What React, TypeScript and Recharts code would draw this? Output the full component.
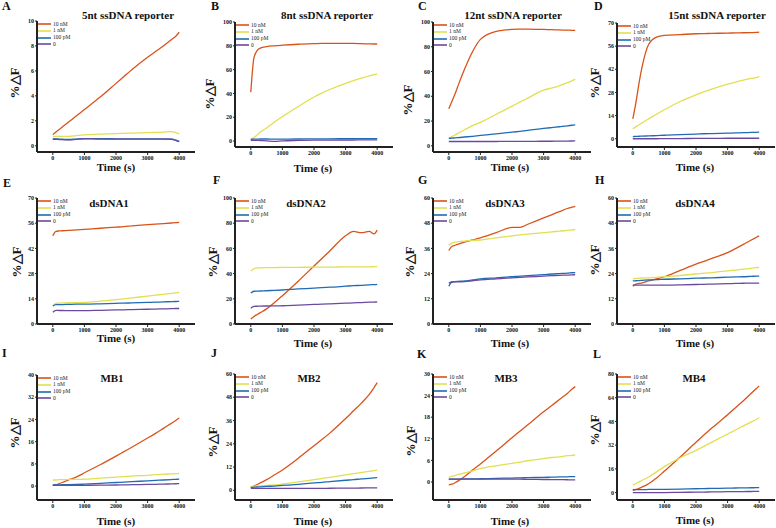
import React from 'react';
import { LineChart, Line, XAxis, YAxis, Legend } from 'recharts';

const FONT = 'Liberation Serif, "Times New Roman", Times, serif';

const T = [0, 100, 200, 300, 500, 750, 1000, 1500, 2000, 2250, 2500, 3000, 3250, 3500, 3750, 3900, 4000];
const X_TICKS = [0, 1000, 2000, 3000, 4000];
const SERIES_NAMES = ['10 nM', '1 nM', '100 pM', '0'];
const SERIES_COLORS = ['#D95319', '#E2DF50', '#1F6CB5', '#6A4A9E'];

// A: 5nt ssDNA reporter
const a10nM = [0.9, 1.1, 1.3, 1.5, 1.9, 2.4, 2.9, 3.9, 5.0, 5.55, 6.1, 7.1, 7.55, 8.0, 8.5, 8.8, 9.1];
const a1nM = [0.75, 0.75, 0.76, 0.76, 0.75, 0.82, 0.88, 0.93, 0.98, 1.0, 1.02, 1.05, 1.07, 1.1, 1.14, 1.05, 0.95];
const a100pM = [0.55, 0.55, 0.54, 0.53, 0.5, 0.54, 0.58, 0.57, 0.56, 0.56, 0.56, 0.55, 0.55, 0.55, 0.54, 0.45, 0.35];
const a0 = [0.52, 0.52, 0.5, 0.49, 0.47, 0.52, 0.55, 0.54, 0.54, 0.54, 0.54, 0.53, 0.53, 0.53, 0.52, 0.42, 0.32];
// B: 8nt ssDNA reporter
const b10nM = [41, 70, 76, 78, 79.3, 80, 80.5, 81.3, 81.8, 82, 82, 82, 82, 81.8, 81.6, 81.5, 81.5];
const b1nM = [1, 3, 5, 7.5, 11, 16, 20.5, 29, 37, 40.3, 43.3, 48.5, 50.8, 52.8, 54.8, 55.8, 56.5];
const b100pM = [1.5, 1.6, 1.6, 1.7, 1.7, 1.6, 1.6, 1.7, 1.8, 1.8, 1.9, 2, 2, 2, 2, 2, 2];
const b0 = [0.5, 0.6, 0.6, 0.4, 0.2, -0.3, 0.2, 0.5, 0.7, 0.7, 0.8, 0.9, 0.9, 1, 1, 1, 1];
// C: 12nt ssDNA reporter
const c10nM = [30, 36, 42, 49, 62, 76, 86, 92.5, 94, 94.2, 94.3, 94, 93.8, 93.6, 93.4, 93.3, 93.2];
const c1nM = [6, 7.4, 8.8, 10.2, 13, 16.3, 19, 25.5, 32, 35.3, 38.5, 45, 46.5, 48.5, 51, 52.5, 54];
const c100pM = [6, 6.2, 6.4, 6.6, 7.1, 7.7, 8.4, 9.6, 11, 11.7, 12.4, 14, 14.7, 15.4, 16.1, 16.6, 17];
const c0 = [3.5, 3.5, 3.5, 3.5, 3.5, 3.5, 3.5, 3.5, 3.6, 3.6, 3.6, 3.7, 3.7, 3.8, 3.8, 3.9, 4];
// D: 15nt ssDNA reporter
const d10nM = [12, 22, 34, 44, 57, 61.5, 62.5, 63, 63.5, 63.6, 63.7, 63.9, 64, 64.1, 64.2, 64.3, 64.5];
const d1nM = [6, 7.3, 8.5, 9.7, 12, 14.8, 17.5, 22.5, 26.5, 28.3, 30, 33, 34.3, 35.5, 36.5, 37, 37.5];
const d100pM = [1.3, 1.4, 1.5, 1.6, 1.7, 1.9, 2.1, 2.5, 2.8, 3, 3.1, 3.4, 3.5, 3.7, 3.8, 3.9, 4];
const d0 = [0, 0, 0, 0, 0, 0, 0.1, 0.1, 0.2, 0.2, 0.2, 0.3, 0.3, 0.3, 0.3, 0.3, 0.3];
// E: dsDNA1
const e10nM = [49, 51.5, 51.7, 51.8, 52, 52.3, 52.6, 53.2, 53.8, 54.1, 54.5, 55.2, 55.5, 55.8, 56.1, 56.3, 56.5];
const e1nM = [10, 11.5, 11.6, 11.7, 11.8, 11.9, 12, 12.7, 13.5, 14, 14.5, 15.5, 16, 16.5, 17, 17.3, 17.5];
const e100pM = [10, 10.8, 10.8, 10.8, 10.9, 11, 11, 11.2, 11.5, 11.6, 11.7, 12, 12.1, 12.3, 12.4, 12.5, 12.6];
const e0 = [6.5, 7.6, 7.5, 7.5, 7.4, 7.4, 7.4, 7.6, 7.8, 7.9, 8, 8.2, 8.3, 8.4, 8.5, 8.6, 8.6];
// F: dsDNA2
const f10nM = [4, 6, 7.5, 9, 12, 17, 22.5, 34, 46, 52, 58, 70, 73.5, 72.5, 73.5, 71.5, 74.5];
const f1nM = [42, 44, 44.5, 44.6, 44.7, 44.8, 44.9, 45, 45.1, 45.2, 45.2, 45.3, 45.3, 45.4, 45.4, 45.5, 45.5];
const f100pM = [24.5, 26, 26.1, 26.2, 26.4, 26.7, 27, 27.8, 28.5, 28.9, 29.2, 30, 30.4, 30.7, 31.1, 31.3, 31.5];
const f0 = [12.5, 14, 14.1, 14.2, 14.3, 14.4, 14.5, 15, 15.5, 15.8, 16, 16.5, 16.8, 17, 17.3, 17.4, 17.5];
// G: dsDNA3
const g10nM = [35, 37, 37.5, 38, 39, 40, 41, 43.5, 46, 46, 47.5, 50.5, 52, 53.5, 55, 55.6, 56];
const g1nM = [37.5, 38.5, 39, 39.2, 39.5, 39.8, 40, 41, 42, 42.4, 42.8, 43.5, 43.9, 44.2, 44.6, 44.8, 45];
const g100pM = [18, 20, 20.2, 20.3, 20.5, 21, 21.5, 22, 22.5, 22.8, 23, 23.5, 23.8, 24, 24.2, 24.4, 24.5];
const g0 = [19.5, 20, 20.1, 20.1, 20.2, 20.6, 21, 21.5, 22, 22.2, 22.4, 22.8, 23, 23.2, 23.3, 23.4, 23.5];
// H: dsDNA4
const h10nM = [18, 19, 19.3, 19.6, 20.5, 21.5, 22.5, 25.5, 28.5, 29.8, 31.2, 34, 35.9, 37.9, 40, 41.2, 42];
const h1nM = [21.5, 21.7, 21.8, 21.9, 22, 22.2, 22.5, 23.1, 23.8, 24.2, 24.5, 25.3, 25.7, 26.1, 26.5, 26.8, 27];
const h100pM = [20.5, 20.6, 20.7, 20.8, 21, 21.1, 21.3, 21.5, 21.8, 21.9, 22, 22.3, 22.4, 22.5, 22.7, 22.8, 22.8];
const h0 = [18.5, 18.5, 18.5, 18.5, 18.5, 18.5, 18.5, 18.6, 18.8, 18.9, 19, 19.2, 19.3, 19.4, 19.5, 19.5, 19.5];
// I: MB1
const i10nM = [0.3, 0.5, 0.9, 1.3, 2.2, 3.3, 4.8, 7.7, 10.8, 12.4, 14, 17.3, 19, 20.8, 22.6, 23.7, 24.5];
const i1nM = [2.2, 2.2, 2.3, 2.3, 2.4, 2.4, 2.5, 2.9, 3.2, 3.4, 3.6, 3.9, 4.1, 4.3, 4.4, 4.5, 4.6];
const i100pM = [0.4, 0.4, 0.45, 0.5, 0.55, 0.6, 0.7, 1, 1.3, 1.45, 1.6, 1.9, 2.05, 2.2, 2.35, 2.45, 2.5];
const i0 = [0.3, 0.3, 0.3, 0.3, 0.3, 0.3, 0.3, 0.35, 0.4, 0.45, 0.5, 0.6, 0.65, 0.72, 0.8, 0.85, 0.9];
// J: MB2
const j10nM = [1.5, 2.2, 3, 3.8, 5.5, 8, 10.5, 16.5, 23, 26.2, 29.5, 37, 41, 45, 49.5, 53, 55.5];
const j1nM = [2, 2.1, 2.2, 2.3, 2.5, 2.8, 3.2, 4.3, 5.5, 6.1, 6.7, 8, 8.6, 9.2, 9.8, 10.2, 10.5];
const j100pM = [1.5, 1.6, 1.7, 1.8, 2, 2.2, 2.5, 3.1, 3.8, 4.1, 4.5, 5.2, 5.5, 5.9, 6.2, 6.4, 6.5];
const j0 = [1, 1, 1, 1, 1, 1, 1, 1, 1, 1, 1.05, 1.1, 1.15, 1.2, 1.25, 1.3, 1.3];
// K: MB3
const k10nM = [-0.8, -0.6, -0.2, 0.3, 1.5, 3.3, 5, 8.6, 12.3, 14.1, 15.9, 19.5, 21.2, 22.9, 24.6, 25.8, 26.5];
const k1nM = [1.3, 1.6, 1.8, 2.1, 2.5, 3.1, 3.7, 4.5, 5.2, 5.5, 5.9, 6.5, 6.8, 7, 7.3, 7.4, 7.5];
const k100pM = [0.8, 0.8, 0.8, 0.8, 0.85, 0.85, 0.9, 1, 1.1, 1.15, 1.2, 1.3, 1.35, 1.4, 1.45, 1.5, 1.5];
const k0 = [0.8, 0.8, 0.8, 0.8, 0.8, 0.8, 0.8, 0.8, 0.8, 0.78, 0.75, 0.7, 0.68, 0.65, 0.62, 0.6, 0.6];
// L: MB4
const l10nM = [1.5, 2.1, 2.9, 3.8, 6, 9.8, 14.5, 24, 34, 38.8, 43.5, 52.5, 57.3, 62, 67, 70, 72];
const l1nM = [5, 6.1, 7.2, 8.3, 10.5, 14, 17.5, 23.5, 28.5, 31.2, 34, 39.5, 42.2, 45, 47.7, 49.3, 50.5];
const l100pM = [2, 2, 2, 2, 2.1, 2.15, 2.2, 2.4, 2.6, 2.7, 2.8, 3, 3.1, 3.2, 3.25, 3.3, 3.3];
const l0 = [0, 0, 0, 0, 0, 0, 0, 0.15, 0.3, 0.37, 0.45, 0.6, 0.65, 0.7, 0.75, 0.78, 0.8];

type PanelSpec = {
  letter: string;
  title: string;
  left: number;
  right: number;
  top: number;
  bottom: number;
  yDomain: [number, number];
  yTicks: number[];
  series: number[][];
  letterPos: [number, number];
  titlePos: [number, number];
  yLabelPos: [number, number];
  xLabelPos: [number, number];
};

const PANELS: PanelSpec[] = [
  { letter: 'A', title: '5nt ssDNA reporter', left: 37, right: 195, top: 21, bottom: 152, yDomain: [-0.5, 10], yTicks: [0, 2, 4, 6, 8, 10], series: [a10nM, a1nM, a100pM, a0], letterPos: [2, 10], titlePos: [128, 19], yLabelPos: [14, 83], xLabelPos: [116, 171] },
  { letter: 'B', title: '8nt ssDNA reporter', left: 235, right: 393, top: 22, bottom: 147, yDomain: [-5, 100], yTicks: [0, 20, 40, 60, 80, 100], series: [b10nM, b1nM, b100pM, b0], letterPos: [211, 10], titlePos: [327, 19], yLabelPos: [209, 94], xLabelPos: [313, 172] },
  { letter: 'C', title: '12nt ssDNA reporter', left: 433, right: 591, top: 22, bottom: 152, yDomain: [-5, 100], yTicks: [0, 20, 40, 60, 80, 100], series: [c10nM, c1nM, c100pM, c0], letterPos: [418, 10], titlePos: [513, 19], yLabelPos: [407, 100], xLabelPos: [510, 171] },
  { letter: 'D', title: '15nt ssDNA reporter', left: 617, right: 775, top: 23, bottom: 147, yDomain: [-5, 70], yTicks: [0, 14, 28, 42, 56, 70], series: [d10nM, d1nM, d100pM, d0], letterPos: [594, 10], titlePos: [717, 19], yLabelPos: [594, 83], xLabelPos: [695, 171] },
  { letter: 'E', title: 'dsDNA1', left: 37, right: 195, top: 198, bottom: 324, yDomain: [0, 70], yTicks: [0, 14, 28, 42, 56, 70], series: [e10nM, e1nM, e100pM, e0], letterPos: [3, 187], titlePos: [109, 207], yLabelPos: [16, 262], xLabelPos: [116, 342] },
  { letter: 'F', title: 'dsDNA2', left: 235, right: 393, top: 198, bottom: 324, yDomain: [0, 100], yTicks: [0, 20, 40, 60, 80, 100], series: [f10nM, f1nM, f100pM, f0], letterPos: [213, 184], titlePos: [306, 207], yLabelPos: [212, 262], xLabelPos: [313, 347] },
  { letter: 'G', title: 'dsDNA3', left: 433, right: 591, top: 198, bottom: 324, yDomain: [0, 60], yTicks: [0, 12, 24, 36, 48, 60], series: [g10nM, g1nM, g100pM, g0], letterPos: [418, 184], titlePos: [505, 207], yLabelPos: [409, 262], xLabelPos: [510, 347] },
  { letter: 'H', title: 'dsDNA4', left: 617, right: 775, top: 198, bottom: 324, yDomain: [0, 60], yTicks: [0, 12, 24, 36, 48, 60], series: [h10nM, h1nM, h100pM, h0], letterPos: [595, 184], titlePos: [695, 207], yLabelPos: [594, 260], xLabelPos: [695, 347] },
  { letter: 'I', title: 'MB1', left: 37, right: 195, top: 375, bottom: 500, yDomain: [-5, 40], yTicks: [0, 8, 16, 24, 32, 40], series: [i10nM, i1nM, i100pM, i0], letterPos: [2, 357], titlePos: [112, 382], yLabelPos: [14, 433], xLabelPos: [116, 525] },
  { letter: 'J', title: 'MB2', left: 235, right: 393, top: 374, bottom: 500, yDomain: [-5, 60], yTicks: [0, 12, 24, 36, 48, 60], series: [j10nM, j1nM, j100pM, j0], letterPos: [211, 357], titlePos: [309, 382], yLabelPos: [212, 442], xLabelPos: [313, 525] },
  { letter: 'K', title: 'MB3', left: 433, right: 591, top: 374, bottom: 500, yDomain: [-5, 30], yTicks: [0, 6, 12, 18, 24, 30], series: [k10nM, k1nM, k100pM, k0], letterPos: [417, 358], titlePos: [506, 382], yLabelPos: [410, 441], xLabelPos: [510, 525] },
  { letter: 'L', title: 'MB4', left: 617, right: 775, top: 374, bottom: 500, yDomain: [-5, 80], yTicks: [0, 16, 32, 48, 64, 80], series: [l10nM, l1nM, l100pM, l0], letterPos: [593, 358], titlePos: [694, 382], yLabelPos: [594, 430], xLabelPos: [695, 524] },
];

function buildData(series: number[][]) {
  return T.map((t, i) => {
    const row: Record<string, number> = { t };
    series.forEach((s, k) => {
      row['s' + k] = s[i];
    });
    return row;
  });
}

const LegendBox = () => (
  <div style={{ fontFamily: FONT, fontSize: 5.5, color: '#222', lineHeight: '6.8px' }}>
    {SERIES_NAMES.map((n, i) => (
      <div key={n} style={{ display: 'flex', alignItems: 'center', height: 6.8, whiteSpace: 'nowrap' }}>
        <svg width={13} height={4} style={{ display: 'block', marginRight: 2 }}>
          <line x1={0} y1={2} x2={13} y2={2} stroke={SERIES_COLORS[i]} strokeWidth={1.6} />
        </svg>
        <span>{n}</span>
      </div>
    ))}
  </div>
);

const tickStyle = { fontSize: 6, fontWeight: 700, fontFamily: FONT, fill: '#111' };

function Panel({ p }: { p: PanelSpec }) {
  const W = p.right - p.left + 45;
  const H = p.bottom - p.top + 35;
  return (
    <div style={{ position: 'absolute', left: p.left - 40, top: p.top - 10 }}>
      <LineChart width={W} height={H} data={buildData(p.series)} margin={{ top: 10, right: 5, bottom: 0, left: 10 }}>
        <XAxis
          dataKey="t"
          type="number"
          domain={[-500, 4500]}
          ticks={X_TICKS}
          interval={0}
          height={25}
          tickSize={3}
          tickMargin={1}
          allowDataOverflow
          axisLine={{ stroke: '#222', strokeWidth: 2 }}
          tickLine={{ stroke: '#222' }}
          tick={tickStyle}
        />
        <YAxis
          type="number"
          domain={p.yDomain}
          ticks={p.yTicks}
          interval={0}
          width={30}
          tickSize={2}
          tickMargin={1}
          allowDataOverflow
          axisLine={{ stroke: '#222', strokeWidth: 2 }}
          tickLine={{ stroke: '#222' }}
          tick={tickStyle}
        />
        <Legend
          layout="vertical"
          align="center"
          verticalAlign="middle"
          content={() => <LegendBox />}
          wrapperStyle={{ left: 41, top: 9.6, width: 'auto', height: 'auto' }}
        />
        {SERIES_NAMES.map((n, i) => (
          <Line
            key={n}
            dataKey={'s' + i}
            name={n}
            type="monotone"
            stroke={SERIES_COLORS[i]}
            strokeWidth={1.3}
            dot={false}
            isAnimationActive={false}
          />
        ))}
      </LineChart>
    </div>
  );
}

export default function App() {
  return (
    <div style={{ position: 'absolute', left: 0, top: 0, width: 776, height: 528, background: '#fff', overflow: 'hidden' }}>
      {PANELS.map((p) => (
        <Panel key={p.letter} p={p} />
      ))}
      <svg width={776} height={528} style={{ position: 'absolute', left: 0, top: 0, pointerEvents: 'none' }}>
        {PANELS.map((p) => (
          <g key={p.letter} fontFamily={FONT} fontWeight={700} fill="#111">
            <text x={p.letterPos[0]} y={p.letterPos[1]} fontSize={12}>{p.letter}</text>
            <text x={p.titlePos[0]} y={p.titlePos[1]} fontSize={11} textAnchor="middle">{p.title}</text>
            <text
              transform={`translate(${p.yLabelPos[0]},${p.yLabelPos[1]}) rotate(-90)`}
              fontSize={13}
              textAnchor="middle"
              dominantBaseline="central"
            >
              %△F
            </text>
            <text x={p.xLabelPos[0]} y={p.xLabelPos[1]} fontSize={11} textAnchor="middle">Time (s)</text>
          </g>
        ))}
      </svg>
    </div>
  );
}
